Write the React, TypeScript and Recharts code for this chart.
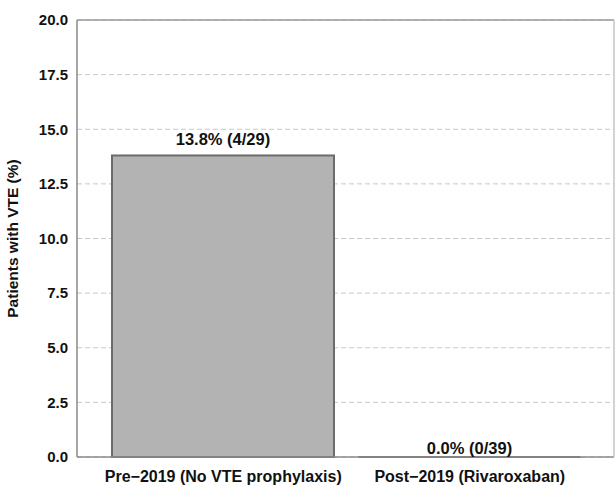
import { Bar, BarChart, CartesianGrid, LabelList, XAxis, YAxis } from 'recharts';

const periods = ['Pre\u22122019 (No VTE prophylaxis)', 'Post\u22122019 (Rivaroxaban)'];
const vteRates = [13.8, 0.0];
const barLabels = ['13.8% (4/29)', '0.0% (0/39)'];
const yTicks = [0, 2.5, 5, 7.5, 10, 12.5, 15, 17.5, 20];

const data = periods.map((period, i) => ({ period, rate: vteRates[i], label: barLabels[i] }));

const FONT = '"Liberation Sans", Arial, Helvetica, sans-serif';
const textStyle = { fill: '#111', fontWeight: 700, fontFamily: FONT };

function BarShape(props: any) {
  const { x, y, width, height } = props;
  if (!height) {
    return <line x1={x} x2={x + width} y1={y} y2={y} stroke="#6b6b6b" strokeWidth={2} />;
  }
  return <rect x={x} y={y} width={width} height={height} fill="#b3b3b3" stroke="#6b6b6b" strokeWidth={2} />;
}

function BarLabel(props: any) {
  const { x, y, width, height, value } = props;
  const gap = height ? 10 : 3;
  return (
    <text x={x + width / 2} y={y - gap} textAnchor="middle" fontSize={16.5} {...textStyle}>
      {value}
    </text>
  );
}

export default function App() {
  return (
    <div style={{ position: 'absolute', left: 0, top: 0, fontFamily: FONT }}>
      <BarChart
        width={616}
        height={486}
        data={data}
        margin={{ top: 19, right: 1, bottom: 0, left: 0 }}
        barSize={222}
      >
        <CartesianGrid vertical={false} stroke="#c8c8c8" strokeDasharray="5 3" />
        <XAxis
          dataKey="period"
          height={29}
          axisLine={{ stroke: '#8a8a8a', strokeWidth: 1.5 }}
          tickLine={false}
          tickSize={0}
          tickMargin={14}
          padding={{ left: 23, right: 21 }}
          tick={{ ...textStyle, fontSize: 16 }}
          interval={0}
        />
        <XAxis
          xAxisId="top"
          orientation="top"
          dataKey="period"
          height={1}
          tick={false}
          tickLine={false}
          axisLine={{ stroke: '#9a9a9a', strokeWidth: 1.5 }}
        />
        <YAxis
          domain={[0, 20]}
          ticks={yTicks}
          width={77}
          axisLine={{ stroke: '#8a8a8a', strokeWidth: 1.5 }}
          tickLine={false}
          tickSize={0}
          tickMargin={9}
          tickFormatter={(v: number) => v.toFixed(1)}
          tick={{ ...textStyle, fontSize: 15 }}
          label={{
            value: 'Patients with VTE (%)',
            angle: -90,
            position: 'insideLeft',
            offset: 12,
            style: { ...textStyle, textAnchor: 'middle', fontSize: 15.5 },
          }}
        />
        <YAxis
          yAxisId="right"
          orientation="right"
          domain={[0, 20]}
          width={1}
          tick={false}
          tickLine={false}
          axisLine={{ stroke: '#c4c4c4', strokeWidth: 1.5 }}
        />
        <Bar dataKey="rate" shape={BarShape} isAnimationActive={false}>
          <LabelList dataKey="label" content={BarLabel} />
        </Bar>
      </BarChart>
    </div>
  );
}
